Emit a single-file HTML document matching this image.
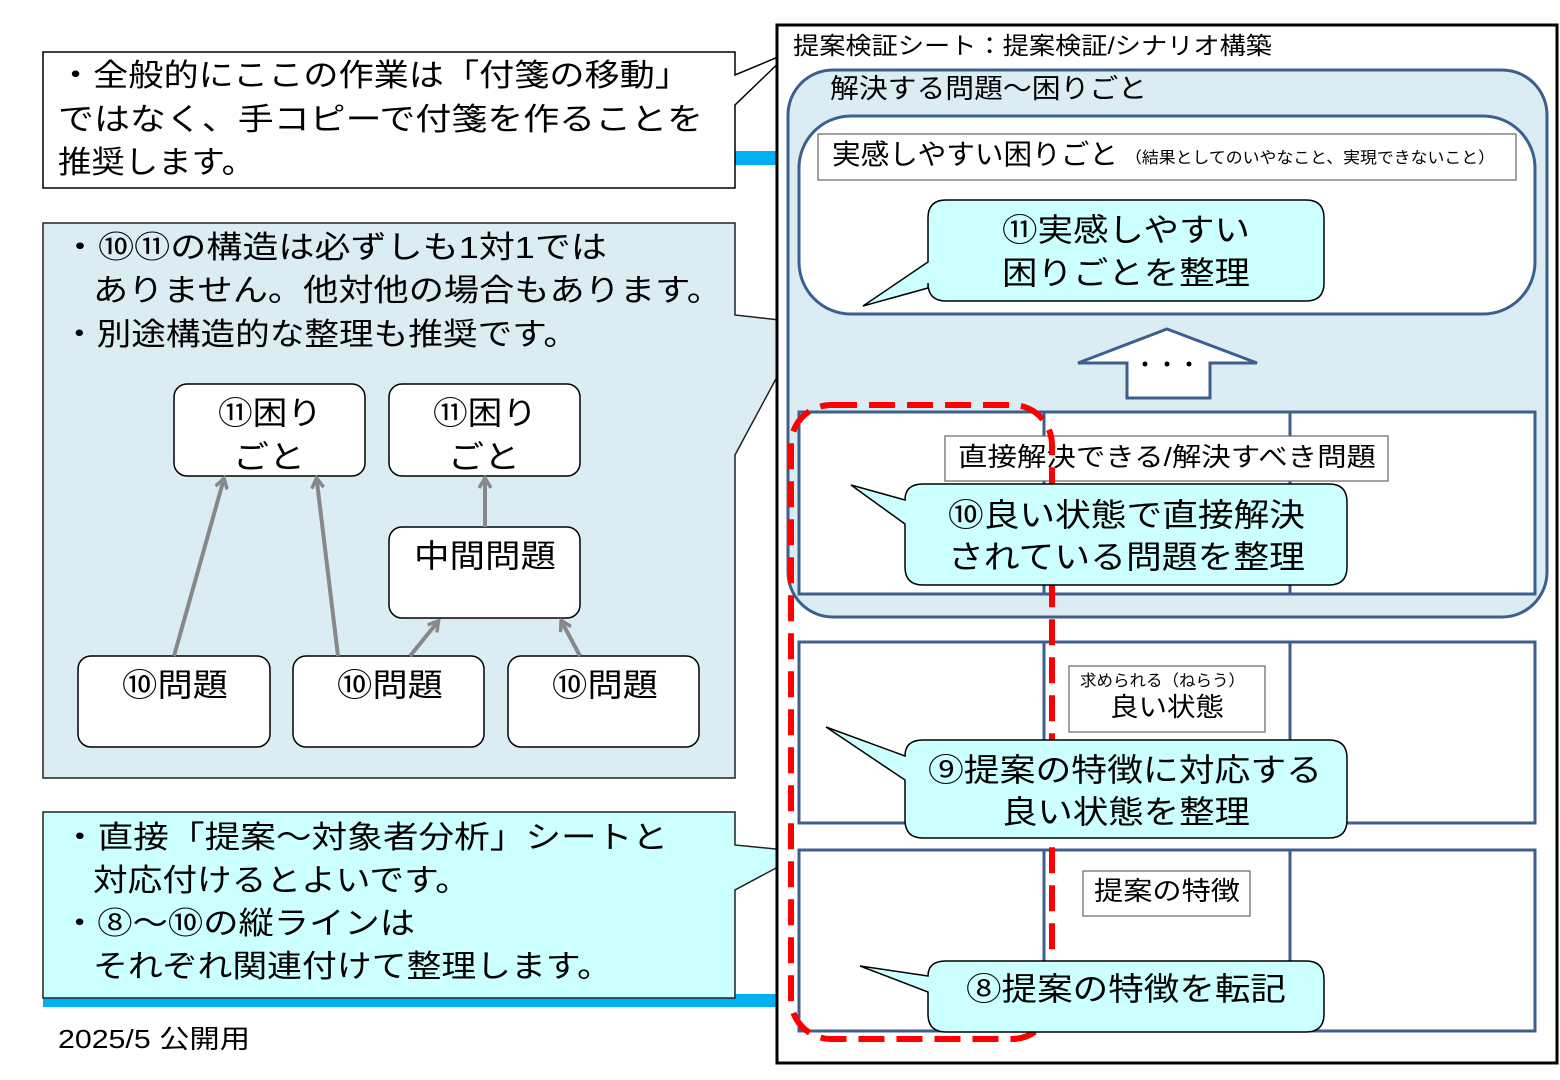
<!DOCTYPE html>
<html><head><meta charset="utf-8"><style>
html,body{margin:0;padding:0;background:#fff;}
svg{display:block;}
text{font-family:"Liberation Sans","Noto Sans CJK JP",sans-serif;fill:#000;}
</style></head><body>
<svg width="1560" height="1080" viewBox="0 0 1560 1080" xmlns="http://www.w3.org/2000/svg">
<defs>
<marker id="ah" markerWidth="14" markerHeight="14" refX="7" refY="7" orient="auto" markerUnits="userSpaceOnUse">
<path d="M1,1 L11,7 L1,13" fill="none" stroke="#888" stroke-width="3.5"/>
</marker>
</defs>
<rect x="735" y="151" width="42" height="14" fill="#00b0f0"/>
<rect x="43" y="994" width="734" height="13" fill="#00b0f0"/>

<path d="M43,52 H735 V75 L790,52 L735,105 V188 H43 Z" fill="#fff" stroke="#000" stroke-width="1.5"/>
<text x="58" y="86" font-size="31" textLength="632" lengthAdjust="spacingAndGlyphs">・全般的にここの作業は「付箋の移動」</text>
<text x="58" y="130" font-size="31" textLength="645" lengthAdjust="spacingAndGlyphs">ではなく、手コピーで付箋を作ることを</text>
<text x="58" y="173" font-size="31" textLength="197" lengthAdjust="spacingAndGlyphs">推奨します。</text>

<path d="M43,223 H735 V315 L806,323 L735,455 V778 H43 Z" fill="#dbecf2" stroke="#222" stroke-width="1.5"/>
<text x="62" y="258" font-size="31" textLength="545" lengthAdjust="spacingAndGlyphs">・⑩⑪の構造は必ずしも1対1では</text>
<text x="93" y="301" font-size="31" textLength="629" lengthAdjust="spacingAndGlyphs">ありません。他対他の場合もあります。</text>
<text x="62" y="345" font-size="31" textLength="516" lengthAdjust="spacingAndGlyphs">・別途構造的な整理も推奨です。</text>

<g fill="#fff" stroke="#000" stroke-width="1.5">
<rect x="174" y="384" width="191" height="92" rx="13"/>
<rect x="389" y="384" width="191" height="92" rx="13"/>
<rect x="389" y="527" width="191" height="91" rx="13"/>
<rect x="78" y="656" width="192" height="91" rx="13"/>
<rect x="293" y="656" width="191" height="91" rx="13"/>
<rect x="508" y="656" width="191" height="91" rx="13"/>
</g>
<g font-size="32" lengthAdjust="spacingAndGlyphs">
<text x="218" y="424" textLength="104" lengthAdjust="spacingAndGlyphs">⑪困り</text><text x="233" y="468" textLength="72" lengthAdjust="spacingAndGlyphs">ごと</text>
<text x="433" y="424" textLength="104" lengthAdjust="spacingAndGlyphs">⑪困り</text><text x="448" y="468" textLength="72" lengthAdjust="spacingAndGlyphs">ごと</text>
<text x="414" y="567" textLength="142" lengthAdjust="spacingAndGlyphs">中間問題</text>
<text x="122" y="696" textLength="106" lengthAdjust="spacingAndGlyphs">⑩問題</text>
<text x="337" y="696" textLength="106" lengthAdjust="spacingAndGlyphs">⑩問題</text>
<text x="552" y="696" textLength="106" lengthAdjust="spacingAndGlyphs">⑩問題</text>
</g>
<g stroke="#888" stroke-width="4" fill="none" marker-end="url(#ah)">
<line x1="174" y1="656" x2="223" y2="482"/>
<line x1="338" y1="656" x2="317" y2="482"/>
<line x1="485" y1="527" x2="485" y2="482"/>
<line x1="410" y1="656" x2="436" y2="624"/>
<line x1="580" y1="656" x2="563" y2="624"/>
</g>

<path d="M43,812 H735 V845 L806,852 L735,890 V998 H43 Z" fill="#ccffff" stroke="#222" stroke-width="1.5"/>
<text x="62" y="848" font-size="31" textLength="606" lengthAdjust="spacingAndGlyphs">・直接「提案～対象者分析」シートと</text>
<text x="93" y="891" font-size="31" textLength="377" lengthAdjust="spacingAndGlyphs">対応付けるとよいです。</text>
<text x="62" y="934" font-size="31" textLength="353" lengthAdjust="spacingAndGlyphs">・⑧～⑩の縦ラインは</text>
<text x="93" y="977" font-size="31" textLength="519" lengthAdjust="spacingAndGlyphs">それぞれ関連付けて整理します。</text>

<text x="58" y="1048" font-size="26" textLength="192" lengthAdjust="spacingAndGlyphs">2025/5 公開用</text>

<rect x="777" y="25" width="780" height="1038" fill="#fff" stroke="#000" stroke-width="3"/>
<text x="793" y="54" font-size="24" textLength="479" lengthAdjust="spacingAndGlyphs">提案検証シート：提案検証/シナリオ構築</text>

<rect x="788" y="70" width="759" height="547" rx="45" fill="#dbecf2" stroke="#3d5f8f" stroke-width="3"/>
<text x="830" y="98" font-size="27" textLength="317" lengthAdjust="spacingAndGlyphs">解決する問題～困りごと</text>
<rect x="799" y="116" width="736" height="198" rx="52" fill="#fff" stroke="#3d5f8f" stroke-width="3"/>
<rect x="818" y="134" width="698" height="46" fill="#fff" stroke="#666" stroke-width="1.2"/>
<text x="832" y="164" font-size="28" textLength="286" lengthAdjust="spacingAndGlyphs">実感しやすい困りごと</text>
<text x="1125" y="163" font-size="16" textLength="370" lengthAdjust="spacingAndGlyphs">（結果としてのいやなこと、実現できないこと）</text>

<path d="M946,200 H1306 Q1324,200 1324,218 V283 Q1324,301 1306,301 H946 Q928,301 928,283 V288 L863,306 L928,262 V218 Q928,200 946,200 Z" fill="#ccffff" stroke="#000" stroke-width="1.5"/>
<text x="1002" y="241" font-size="32" textLength="248" lengthAdjust="spacingAndGlyphs">⑪実感しやすい</text>
<text x="1002" y="284" font-size="32" textLength="248" lengthAdjust="spacingAndGlyphs">困りごとを整理</text>

<path d="M1167,329 L1257,363 L1210,363 L1210,398 L1127,398 L1127,363 L1078,363 Z" fill="#fff" stroke="#3d5f8f" stroke-width="3"/>
<g fill="#000"><circle cx="1145" cy="364" r="2.5"/><circle cx="1167" cy="364" r="2.5"/><circle cx="1189" cy="364" r="2.5"/></g>

<g fill="#fff" stroke="#3d5f8f" stroke-width="3">
<rect x="799" y="412" width="736" height="182"/>
<rect x="799" y="642" width="736" height="181"/>
<rect x="799" y="850" width="736" height="181"/>
</g>
<g stroke="#3d5f8f" stroke-width="3">
<line x1="1044" y1="412" x2="1044" y2="594"/><line x1="1290" y1="412" x2="1290" y2="594"/>
<line x1="1044" y1="642" x2="1044" y2="823"/><line x1="1290" y1="642" x2="1290" y2="823"/>
<line x1="1044" y1="850" x2="1044" y2="1031"/><line x1="1290" y1="850" x2="1290" y2="1031"/>
</g>

<rect x="945" y="436" width="443" height="45" fill="#fff" stroke="#666" stroke-width="1.2"/>
<text x="958" y="466" font-size="26" textLength="418" lengthAdjust="spacingAndGlyphs">直接解決できる/解決すべき問題</text>

<rect x="1069" y="666" width="196" height="66" fill="#fff" stroke="#666" stroke-width="1.2"/>
<text x="1080" y="686" font-size="16" textLength="165" lengthAdjust="spacingAndGlyphs">求められる（ねらう）</text>
<text x="1110" y="716" font-size="26" textLength="114" lengthAdjust="spacingAndGlyphs">良い状態</text>

<rect x="1083" y="871" width="167" height="45" fill="#fff" stroke="#666" stroke-width="1.2"/>
<text x="1094" y="900" font-size="26" textLength="146" lengthAdjust="spacingAndGlyphs">提案の特徴</text>

<rect x="791" y="405" width="261" height="634" rx="40" fill="none" stroke="#ff0000" stroke-width="6" stroke-dasharray="26,12"/>

<path d="M923,484 H1329 Q1347,484 1347,502 V567 Q1347,585 1329,585 H923 Q905,585 905,567 V524 L851,485 L905,500 Q905,484 923,484 Z" fill="#ccffff" stroke="#000" stroke-width="1.5"/>
<text x="948" y="526" font-size="32" textLength="357" lengthAdjust="spacingAndGlyphs">⑩良い状態で直接解決</text>
<text x="948" y="568" font-size="32" textLength="357" lengthAdjust="spacingAndGlyphs">されている問題を整理</text>

<path d="M923,740 H1329 Q1347,740 1347,758 V820 Q1347,838 1329,838 H923 Q905,838 905,820 V780 L826,727 L905,756 Q905,740 923,740 Z" fill="#ccffff" stroke="#000" stroke-width="1.5"/>
<text x="928" y="781" font-size="32" textLength="394" lengthAdjust="spacingAndGlyphs">⑨提案の特徴に対応する</text>
<text x="1002" y="823" font-size="32" textLength="248" lengthAdjust="spacingAndGlyphs">良い状態を整理</text>

<path d="M946,961 H1306 Q1324,961 1324,979 V1014 Q1324,1032 1306,1032 H946 Q928,1032 928,1014 V992 L860,966 L928,976 Q928,961 946,961 Z" fill="#ccffff" stroke="#000" stroke-width="1.5"/>
<text x="966" y="1000" font-size="32" textLength="320" lengthAdjust="spacingAndGlyphs">⑧提案の特徴を転記</text>
</svg>
</body></html>
